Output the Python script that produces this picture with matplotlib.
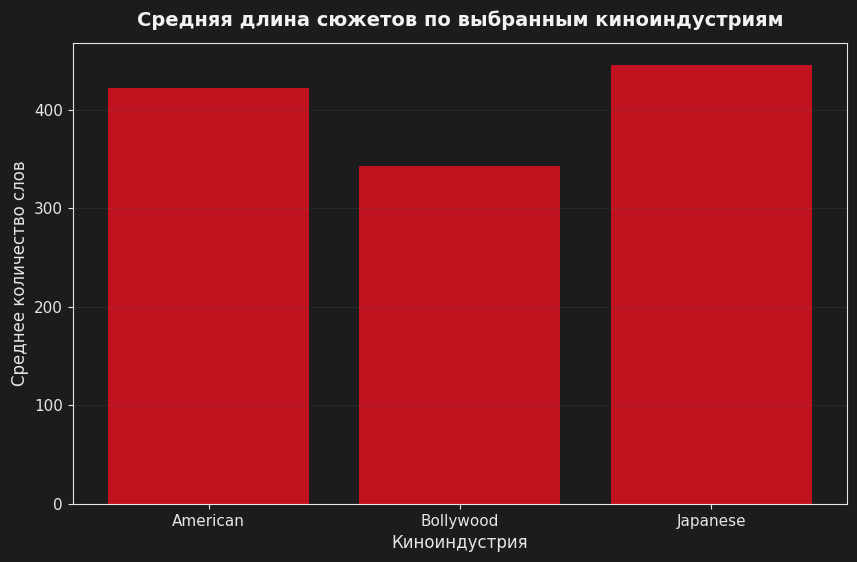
import matplotlib
matplotlib.use("Agg")
import matplotlib.pyplot as plt

industries = ["American", "Bollywood", "Japanese"]
avg_words = [422.5, 343.0, 445.5]

bg = "#1c1c1c"
fg = "#e6e6e6"

fig, ax = plt.subplots(figsize=(8.57, 5.62), dpi=100)
fig.patch.set_facecolor(bg)
ax.set_facecolor(bg)
fig.subplots_adjust(left=0.085, right=0.9883, top=0.9235, bottom=0.1032)

ax.bar(industries, avg_words, width=0.8, color="#c1121f")

# grid drawn over the bars, faint
ax.set_axisbelow(False)
ax.yaxis.grid(True, color="#555555", alpha=0.22, linewidth=0.8)
ax.xaxis.grid(False)

for s in ax.spines.values():
    s.set_color(fg)
ax.tick_params(colors=fg, labelsize=11)

ax.set_xlabel("Киноиндустрия", color=fg, fontsize=12)
ax.set_ylabel("Среднее количество слов", color=fg, fontsize=12)
ax.set_title("Средняя длина сюжетов по выбранным киноиндустриям",
             color="#f2f2f2", fontsize=14, fontweight="bold", pad=12)

fig.savefig("out.png", dpi=100, facecolor=bg)
